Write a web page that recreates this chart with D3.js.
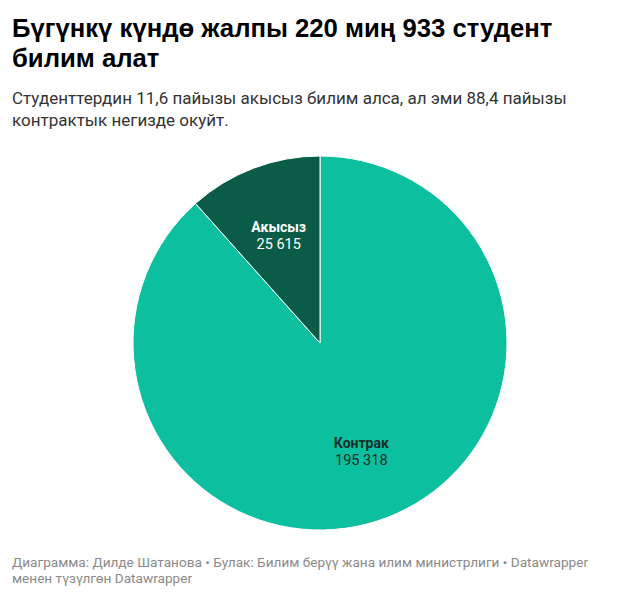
<!DOCTYPE html>
<html lang="ky">
<head>
    <meta charset="UTF-8">
    <title>Студенттер</title>
    <script src="https://d3js.org/d3.v7.min.js"></script>
    <style>
        body {
            margin: 0;
            background: #fff;
        }
        .title {
            font: bold 25.7px "Liberation Sans", Arial, sans-serif;
            fill: #000;
        }
        .subtitle {
            font: 17px Roboto, sans-serif;
            fill: #333;
        }
        .footer {
            font: 13.6px Roboto, sans-serif;
            fill: #8a8a8a;
        }
        .slice {
            stroke: #fff;
            stroke-width: 1px;
        }
        .lbl-name {
            font: bold 14px Roboto, sans-serif;
        }
        .lbl-val {
            font: 14.5px Roboto, sans-serif;
        }
    </style>
</head>
<body>
    <div id="chart"></div>

    <script>
        const labels = ["Контрак", "Акысыз"];
        const values = [195318, 25615];
        const colors = ["#0cbf9f", "#0a5c46"];
        const textColors = ["#16302a", "#ffffff"];

        const width = 640;
        const height = 599;

        const svg = d3.select("#chart")
            .append("svg")
            .attr("width", width)
            .attr("height", height);

        // header
        const titleLines = ["Бүгүнкү күндө жалпы 220 миң 933 студент", "билим алат"];
        svg.selectAll(".title")
            .data(titleLines)
            .enter().append("text")
            .attr("class", "title")
            .attr("x", 12)
            .attr("y", (d, i) => 37 + i * 30)
            .text(d => d);

        const subLines = ["Студенттердин 11,6 пайызы акысыз билим алса, ал эми 88,4 пайызы",
            "контрактык негизде окуйт."];
        svg.selectAll(".subtitle")
            .data(subLines)
            .enter().append("text")
            .attr("class", "subtitle")
            .attr("x", 12)
            .attr("y", (d, i) => 104 + i * 22)
            .text(d => d);

        // pie
        const cx = 320, cy = 343, r = 187;
        const g = svg.append("g")
            .attr("transform", `translate(${cx},${cy})`);

        const data = labels.map((l, i) => ({ label: l, value: values[i], i: i }));
        const pie = d3.pie().sort(null).value(d => d.value);
        const arcs = pie(data);
        const arc = d3.arc().innerRadius(0).outerRadius(r);
        const labelArc = d3.arc().innerRadius(r * 0.62).outerRadius(r * 0.62);

        g.selectAll(".slice")
            .data(arcs)
            .enter().append("path")
            .attr("class", "slice")
            .attr("d", arc)
            .attr("fill", d => colors[d.data.i]);

        const fmt = v => d3.format(",")(v).replace(/,/g, " ");

        const lbl = g.selectAll(".lbl")
            .data(arcs)
            .enter().append("g")
            .attr("class", "lbl")
            .attr("transform", d => `translate(${labelArc.centroid(d)})`);

        lbl.append("text")
            .attr("class", "lbl-name")
            .attr("text-anchor", "middle")
            .attr("y", -3)
            .attr("fill", d => textColors[d.data.i])
            .text(d => d.data.label);

        lbl.append("text")
            .attr("class", "lbl-val")
            .attr("text-anchor", "middle")
            .attr("y", 14)
            .attr("fill", d => textColors[d.data.i])
            .text(d => fmt(d.data.value));

        // footer
        const footLines = ["Диаграмма: Дилде Шатанова • Булак: Билим берүү жана илим министрлиги • Datawrapper",
            "менен түзүлгөн Datawrapper"];
        svg.selectAll(".footer")
            .data(footLines)
            .enter().append("text")
            .attr("class", "footer")
            .attr("x", 12)
            .attr("y", (d, i) => 567 + i * 16)
            .text(d => d);
    </script>
</body>
</html>
